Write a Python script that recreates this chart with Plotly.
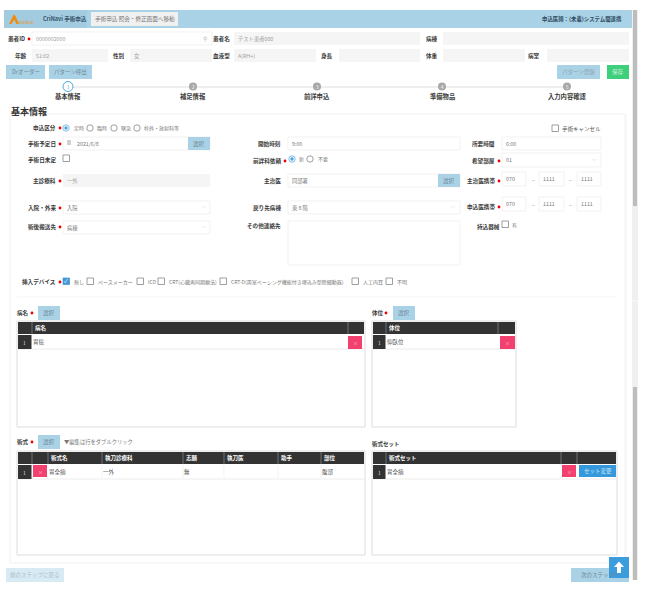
import plotly.graph_objects as go

FONT = "Noto Sans CJK JP"
BLUE = "#a9d2e6"
PINK = "#f2416f"
DARK = "#333333"
LINE = "#ececec"
GREY_IN = "#f5f5f5"
LABEL = "#3a3a3a"
FAINT = "#777777"

# text
app_title = "CriNavi 手術申込"
nav_button = "手術申込 照会・修正画面へ移動"
doctor = "申込医師：(未着)システム間連携"
patient_labels = ["患者ID", "患者名", "病棟", "年齢", "性別", "血液型", "身長", "体重", "病室"]
patient_values = ["0000002000", "テスト患者000", "", "51:02", "女", "A(RH+)", "", "", ""]
top_buttons = ["Drオーダー", "パターン呼出", "パターン登録", "保存"]
steps = ["基本情報", "補足情報", "前詳申込", "準備物品", "入力内容確認"]
step_numbers = ["1", "2", "3", "4", "5"]
section_title = "基本情報"
apply_types = ["定時", "臨時", "緊急", "枠外・放射科等"]
consult_types = ["新", "不要"]
devices = ["無し", "ペースメーカー", "ICD", "CRT(心臓再同期療法)",
           "CRT-D(両室ペーシング機能付き埋込み型除細動器)", "人工内耳", "不明"]
left_labels = ["申込区分", "手術予定日", "手術日未定", "主診療科", "入院・外来", "術後搬送先", "挿入デバイス"]
mid_labels = ["開始時刻", "前詳科依頼", "主治医", "戻り先病棟", "その他連絡先"]
right_labels = ["所要時間", "希望部屋", "主治医携帯", "申込医携帯", "持込器械"]
form_values = ["2021/6/8", "一外", "入院", "病棟", "9:00", "同部署", "東 8 階", "6:00", "01"]
phone = ["070", "1111", "1111"]
disease_header = ["病名"]
disease_rows = ["胃癌"]
position_header = ["体位"]
position_rows = ["仰臥位"]
op_header = ["術式名", "執刀診療科", "志願", "執刀医", "助手", "部位"]
op_row = ["胃全摘", "一外", "無", "", "", "腹部"]
set_header = ["術式セット"]
set_row = ["胃全摘"]
footer = ["前のステップに戻る", "次のステップへ"]

shapes = []
notes = []


def rect(x0, y0, x1, y1, fill="white", line=None, w=0.7):
    shapes.append(dict(type="rect", x0=x0, y0=y0, x1=x1, y1=y1, fillcolor=fill,
                       line=dict(color=line or fill, width=w if line else 0), layer="below"))


def circle(cx, cy, r, fill="white", line="#777777", w=0.7):
    shapes.append(dict(type="circle", x0=cx - r, y0=cy - r, x1=cx + r, y1=cy + r, fillcolor=fill,
                       line=dict(color=line, width=w), layer="below"))


def hline(x0, x1, y, color=LINE, w=1):
    shapes.append(dict(type="line", x0=x0, x1=x1, y0=y, y1=y, line=dict(color=color, width=w), layer="below"))


def text(x, y, s, size=5.5, color=LABEL, anchor="left", bold=False):
    if not s:
        return
    notes.append(dict(x=x, y=y, text="<b>%s</b>" % s if bold else s, showarrow=False, xanchor=anchor,
                      yanchor="middle", xshift=0, font=dict(family=FONT, size=size, color=color),
                      borderpad=0, borderwidth=0))


def label(x, y, s, req=False):
    text(x, y, s, 5.6, LABEL, "right", True)
    if req:
        dot(x + 4, y)


def dot(x, y):
    circle(x, y, 1.4, "#f00000", "#f00000", 0)


def button(x0, y0, x1, y1, s, fill=BLUE, color="#6f8794", size=5.5):
    rect(x0, y0, x1, y1, fill)
    text((x0 + x1) / 2, (y0 + y1) / 2, s, size, color, "center")


def field(x0, y0, x1, y1, s="", fill="white", color=FAINT, pad=4):
    rect(x0, y0, x1, y1, fill, LINE if fill == "white" else None)
    text(x0 + pad, (y0 + y1) / 2, s, 5.3, color)


def chevron(x, y):
    text(x, y, "﹀", 5, "#a9d2e6", "center")


def checkbox(x0, y0, on=False):
    rect(x0, y0, x0 + 6.5, y0 + 6.5, "#3f97d8" if on else "white", "#777777" if not on else "#3f97d8")
    if on:
        text(x0 + 3.2, y0 + 3.2, "✓", 5.5, "white", "center")


def radio(cx, cy, on=False):
    circle(cx, cy, 3.2, "white", "#4aa5dc" if on else "#777777")
    if on:
        circle(cx, cy, 1.7, "#4aa5dc", "#4aa5dc", 0)


def table(x0, y0, x1, y1, cols, heads, row_h=14):
    # cols are the column edges, heads the text for each column
    rect(x0, y0, x1, y1, "white", "#dddddd", 1)
    rect(x0 + 1, y0 + 1, x1 - 1, y0 + 13, DARK)
    for c in cols[1:-1]:
        shapes.append(dict(type="line", x0=c, x1=c, y0=y0 + 1, y1=y0 + 13,
                           line=dict(color="#8a8a8a", width=0.7), layer="below"))
    for c, h in zip(cols, heads):
        text(c + 3, y0 + 7, h, 5.5, "white", "left", True)
    hline(x0 + 1, x1 - 1, y0 + 14 + row_h, LINE, 1)
    rect(x0 + 1, y0 + 14, cols[1] - 0.5, y0 + 14 + row_h, DARK)
    text((x0 + cols[1]) / 2, y0 + 21, "1", 5, "#dddddd", "center")


# page frame
rect(4, 10, 632, 28, BLUE)
rect(4, 10, 87, 28, "#a2cbe0")
shapes.append(dict(type="path", path="M 9 24 L 13.5 15 L 15 15 L 19 24 L 16.5 24 L 14.2 19.5 L 11.5 24 Z",
                   fillcolor="#f08c0a", line=dict(width=0), layer="below"))
text(18.5, 21.5, "medical", 4, "#e8952a")
text(43, 18.5, app_title, 5.5, "#33506a", "left", True)
button(91, 12, 178, 26, nav_button, "#f0f0f0", "#777777", 5.6)
text(622, 18.5, doctor, 5.4, "#2f4a60", "right", True)
rect(632, 10, 638, 580, "#f0f0f0")
rect(633, 10, 637, 206, "#bdbdbd")
rect(633, 387, 637, 580, "#bdbdbd")
hline(632, 638, 301, "white", 0.7)

# patient block
label_x = [25, 230, 438, 27, 125, 230, 333, 438, 540]
field_x = [(32, 212), (234, 420), (443, 629), (32, 108), (130, 212), (234, 316), (339, 420), (443, 525), (547, 629)]
for i, (a, b) in enumerate(field_x):
    y0 = 32 if i < 3 else 49
    label(label_x[i], y0 + 7, patient_labels[i], i == 0)
    field(a, y0, b, y0 + 13, patient_values[i], "white" if i == 0 else GREY_IN, "#a0a0a0")
text(205, 38.5, "⚲", 6, "#bbbbbb", "center")

button(6, 65, 45, 79, top_buttons[0])
button(49, 65, 92, 79, top_buttons[1])
button(557, 65, 600, 79, top_buttons[2], BLUE, "#8fa4b0")
button(607, 65, 629, 79, top_buttons[3], "#3ecf7a", "#c9f2da")

# stepper
step_x = [68, 193, 317, 442, 567]
hline(68, 567, 87, "#dddddd", 1.2)
for i, sx in enumerate(step_x):
    if i == 0:
        circle(sx, 86.5, 5, "white", "#4aa5dc", 1)
        text(sx, 86.5, step_numbers[i], 4.5, "#4aa5dc", "center")
    else:
        circle(sx, 86.5, 4, "#a8a8a8", "#a8a8a8", 0)
        text(sx, 86.5, step_numbers[i], 4.5, "white", "center")
    text(sx, 96, steps[i], 6.3, LABEL, "center", True)

text(11, 111, section_title, 9, "#333333", "left", True)

# card
rect(9, 113, 627, 564, "#f8f8f8")
rect(11, 115, 624, 562, "white")

# form, left column
label(56, 128, left_labels[0], True)
apply_x = [(66, 74), (90, 97), (114, 121), (137, 144)]
for i, (r, t) in enumerate(apply_x):
    radio(r, 128, i == 0)
    text(t, 128, apply_types[i], 5, FAINT)
checkbox(552, 125)
text(562, 128.5, "手術キャンセル", 5.5, "#555555")

label(56, 144, left_labels[1], True)
field(63, 137, 210, 150, form_values[0], pad=14)
rect(67, 140, 71, 145, "#d0d0d0")
button(188, 137, 210, 150, "選択")
label(56, 160, left_labels[2])
checkbox(63, 155)
label(56, 181, left_labels[3], True)
field(63, 174, 210, 187, form_values[1], GREY_IN, "#a0a0a0")
label(56, 208, left_labels[4], True)
field(63, 201, 210, 214, form_values[2])
chevron(203, 207.5)
label(56, 227, left_labels[5], True)
field(63, 221, 210, 234, form_values[3])
chevron(203, 227.5)

# form, middle column
label(281, 144, mid_labels[0])
field(288, 137, 460, 150, form_values[4])
label(281, 161, mid_labels[1], True)
for i, (r, t) in enumerate([(292, 299), (310, 318)]):
    radio(r, 159, i == 0)
    text(t, 159, consult_types[i], 5, FAINT)
label(281, 181, mid_labels[2])
field(288, 174, 460, 187, form_values[5])
button(438, 174, 460, 187, "選択")
label(281, 208, mid_labels[3])
field(288, 201, 460, 214, form_values[6])
chevron(452, 207.5)
label(281, 226, mid_labels[4])
field(288, 221, 460, 265)

# form, right column
label(495, 144, right_labels[0])
field(502, 137, 601, 150, form_values[7])
label(495, 161, right_labels[1], True)
field(502, 153, 601, 167, form_values[8])
chevron(594, 160)
for y0, name in [(172, right_labels[2]), (197, right_labels[3])]:
    label(495, y0 + 10 if y0 == 197 else y0 + 9, name, True)
    for (a, b), p in zip([(502, 526), (539, 564), (577, 601)], phone):
        field(a, y0, b, y0 + 14, p)
    text(533, y0 + 7, "−", 5, FAINT, "center")
    text(570, y0 + 7, "−", 5, FAINT, "center")
label(500, 227, right_labels[4])
checkbox(502, 221)
text(512, 224.5, "有", 5, FAINT)

# devices
label(56, 282, left_labels[6], True)
box_x = [63, 87, 137, 158, 220, 352, 386]
for i, bx in enumerate(box_x):
    checkbox(bx, 278, i == 0)
    text(bx + 11, 281.5, devices[i], 5, FAINT)
hline(17, 617, 297, "#f4f4f4", 1)

# disease and position tables
text(17, 313, "病名", 5.5, LABEL, "left", True)
dot(32, 313)
button(38, 306, 60, 320, "選択")
table(17, 321, 365, 427, [18, 32, 348, 364], ["", disease_header[0], ""])
text(33, 342, disease_rows[0], 5.5, "#555555")
button(348, 336, 362, 349, "×", PINK, "#f7c4d2", 5)

text(372, 313, "体位", 5.5, LABEL, "left", True)
dot(386, 313)
button(393, 306, 415, 320, "選択")
table(372, 321, 516, 427, [373, 386, 498, 515], ["", position_header[0], ""])
text(387, 342, position_rows[0], 5.5, "#555555")
button(500, 336, 515, 349, "×", PINK, "#f7c4d2", 5)

# procedure tables
text(17, 442, "術式", 5.5, LABEL, "left", True)
dot(32, 442)
button(38, 435, 60, 449, "選択")
text(64, 442, "▼編集は行をダブルクリック", 5.3, "#777777")
op_cols = [18, 32, 48, 102, 183, 224, 278, 321, 364]
table(17, 451, 365, 555, op_cols, ["", ""] + op_header)
for c in op_cols[3:-1]:
    shapes.append(dict(type="line", x0=c, x1=c, y0=465, y1=478, line=dict(color=LINE, width=0.7), layer="below"))
for c, v in zip(op_cols[2:], op_row):
    text(c + 1, 471.5, v, 5.5, "#555555")
button(33, 465, 47, 477, "×", PINK, "#f7c4d2", 5)

text(372, 444, "術式セット", 5.5, LABEL, "left", True)
table(372, 451, 617, 555, [373, 386, 561, 577, 616], ["", set_header[0], "", ""])
text(387, 471.5, set_row[0], 5.5, "#555555")
button(562, 465, 576, 477, "×", PINK, "#f7c4d2", 5)
button(579, 465, 616, 477, "セット変更", "#3498db", "#cfe6f7", 5.5)

# footer
button(6, 568, 64, 582, footer[0], "#d8ebf4", "#a9bdc8")
button(571, 568, 629, 582, footer[1], BLUE, "#6f8794")
rect(609, 557, 629, 578, "#3b9ddd")
shapes.append(dict(type="path", path="M 619 561.5 L 624 567 L 621 567 L 621 573 L 617 573 L 617 567 L 614 567 Z",
                   fillcolor="white", line=dict(width=0), layer="below"))

fig = go.Figure()
fig.update_layout(
    width=646, height=600,
    margin=dict(l=0, r=0, t=0, b=0),
    paper_bgcolor="white", plot_bgcolor="white",
    xaxis=dict(range=[0, 646], visible=False, fixedrange=True),
    yaxis=dict(range=[600, 0], visible=False, fixedrange=True),
    shapes=shapes, annotations=notes, showlegend=False,
)
fig.write_html("out.html", config=dict(displayModeBar=False),
               post_script="document.body.style.margin='0';document.body.style.overflow='hidden';")
